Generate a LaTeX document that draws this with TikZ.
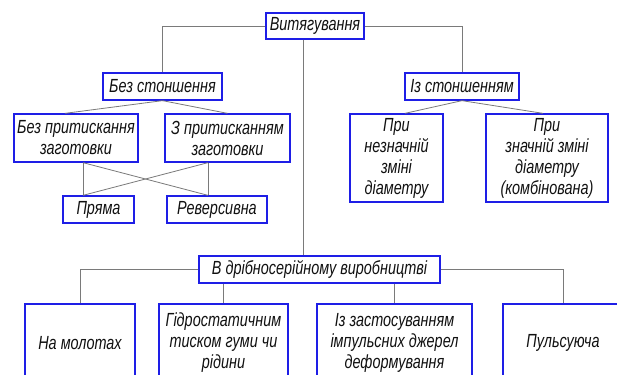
\documentclass[tikz,border=0pt]{standalone}
\usepackage{fontspec}
\usetikzlibrary{positioning,calc}
\newfontfamily\gost[FakeStretch=0.76]{Liberation Sans}
\definecolor{ink}{HTML}{111111}
\definecolor{frame}{HTML}{1E1EE6}
\definecolor{wire}{HTML}{7A7A7A}
\tikzset{
  box/.style={
    draw=frame, line width=1.3pt, fill=white,
    inner sep=1pt, align=center, text=ink,
    font=\gost\itshape\fontsize{19}{21}\selectfont
  },
  link/.style={draw=wire, line width=0.8pt}
}

\begin{document}
\begin{tikzpicture}[x=1pt, y=-1pt,
        flat/.style={box, minimum height=27pt},
        tall/.style={box, minimum height=88pt},
        base/.style={box, minimum height=78pt}
      ]
        \useasboundingbox (0,0) rectangle (617,374);
        \clip (0,0) rectangle (617,374);
        \fill[white] (0,0) rectangle (617,374);
        \node[flat, minimum width=98pt, minimum height=26pt] (top) at (315,26) {Витягування};
        \node[flat, minimum width=119pt] (bez) at (162.5,86.5) {Без стоншення};
        \node[flat, minimum width=114pt] (izs) at (462,86.5) {Із стоншенням};
        \node[box, minimum width=124pt, minimum height=48pt] (bpr) at (76,138) {Без притискання\\заготовки};
        \node[box, minimum width=125pt, minimum height=48pt] (zpr) at (227.5,138) {З притисканням\\заготовки};
        \node[flat, minimum width=71pt] (pryama) at (98.5,209.5) {Пряма};
        \node[flat, minimum width=100pt] (revers) at (217,209.5) {Реверсивна};
        \node[tall, minimum width=93pt] (minor) at (396.5,158) {При\\незначній\\зміні\\діаметру};
        \node[tall, minimum width=122pt] (major) at (547,158) {При\\значній зміні\\діаметру\\(комбінована)};
        \node[flat, minimum width=241pt] (small) at (319.5,269.5) {В дрібносерійному виробництві};
        \node[base, minimum width=110pt] (hammer) at (80,343) {На молотах};
        \node[base, minimum width=129pt] (hydro) at (223.5,343) {Гідростатичним\\тиском гуми чи\\рідини};
        \node[base, minimum width=155pt] (impulse) at (394.5,343) {Із застосуванням\\імпульсних джерел\\деформування};
        \node[base, minimum width=120pt] (pulsing) at (563,343) {Пульсуюча};
        \coordinate (ba) at ([xshift=7pt]bpr.south);
        \coordinate (za) at ([xshift=-19.5pt]zpr.south);
        \coordinate (pa) at ([xshift=-15.5pt]pryama.north);
        \coordinate (ra) at ([xshift=-9pt]revers.north);
        \draw[link] (top.west) -| (bez.north);
        \draw[link] (top.east) -| (izs.north);
        \draw[link] ([xshift=-12pt]top.south) -- ([xshift=-12pt]top.south |- small.north);
        \draw[link] (bez.south) -- ([xshift=-11pt]bpr.north);
        \draw[link] (bez.south) -- (zpr.north);
        \draw[link] (izs.south) -- ([xshift=8.5pt]minor.north);
        \draw[link] (izs.south) -- ([xshift=-4pt]major.north);
        \draw[link] (ba) -- (pa);
        \draw[link] (ba) -- (ra);
        \draw[link] (za) -- (ra);
        \draw[link] (za) -- (pa);
        \draw[link] (small.west) -| (hammer.north);
        \draw[link] (small.east) -| (pulsing.north);
        \draw[link] (small.south -| hydro.north) -- (hydro.north);
        \draw[link] (small.south -| impulse.north) -- (impulse.north);
      \end{tikzpicture}
\end{document}
